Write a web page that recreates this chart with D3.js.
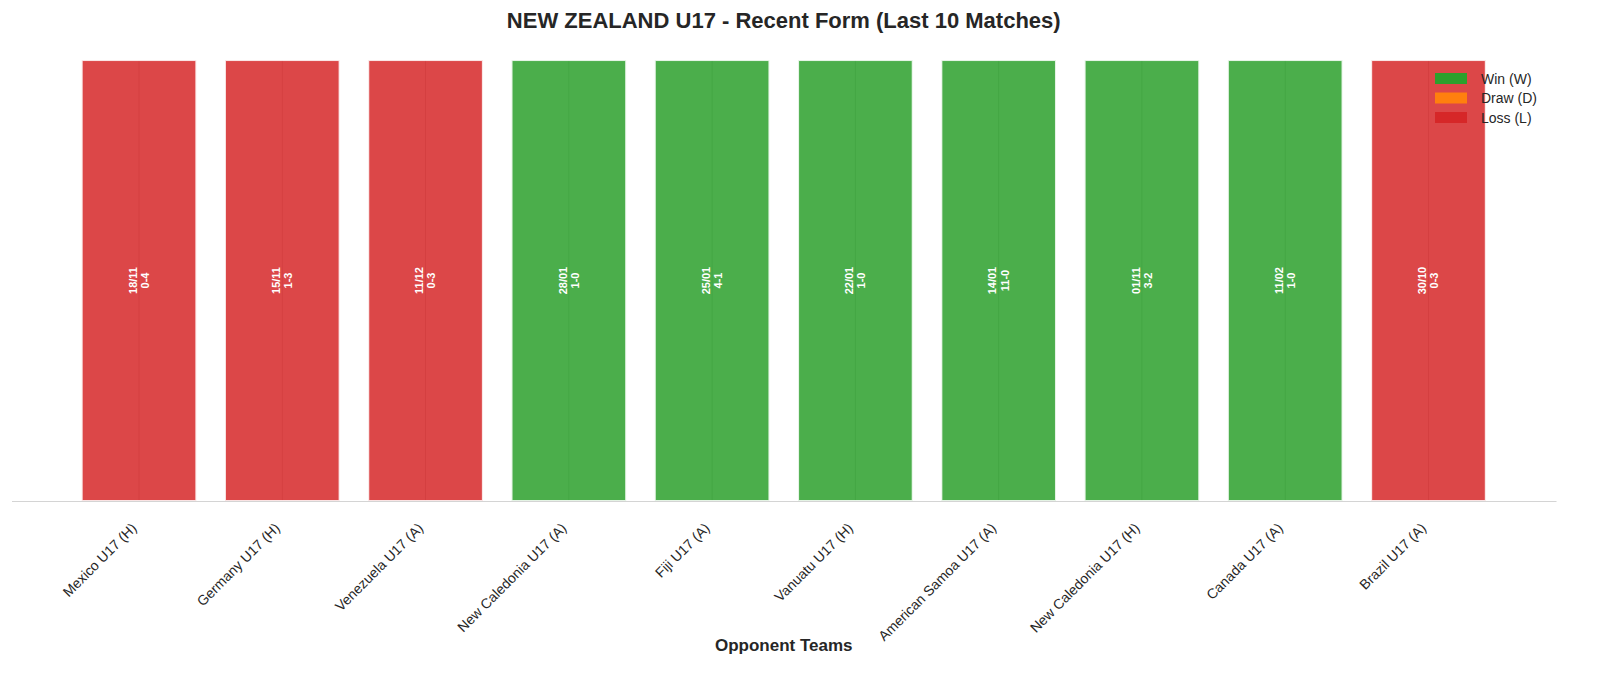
<!DOCTYPE html>
<html>
<head>
<meta charset="utf-8">
<script src="https://cdn.jsdelivr.net/npm/d3@7"></script>
<style>
	body { margin: 0; background: #fff; }
	text { font-family: "Liberation Sans", Arial, sans-serif; }
</style>
</head>
<body>
<div id="chart"></div>
<script>
// match data, oldest on the right
var opponents = ['Mexico U17 (H)', 'Germany U17 (H)', 'Venezuela U17 (A)', 'New Caledonia U17 (A)',
	'Fiji U17 (A)', 'Vanuatu U17 (H)', 'American Samoa U17 (A)', 'New Caledonia U17 (H)',
	'Canada U17 (A)', 'Brazil U17 (A)'];
var results = ['L', 'L', 'L', 'W', 'W', 'W', 'W', 'W', 'W', 'L'];
var dates = ['18/11', '15/11', '11/12', '28/01', '25/01', '22/01', '14/01', '01/11', '11/02', '30/10'];
var scores = ['0-4', '1-3', '0-3', '1-0', '4-1', '1-0', '11-0', '3-2', '1-0', '0-3'];
var legendLabels = ['Win (W)', 'Draw (D)', 'Loss (L)'];

var colors = {W: '#2ca02c', D: '#ff7f0e', L: '#d62728'}

var w = 1600;
var h = 679;
var margin = {left: 11.5, right: 44, top: 38, bottom: 178}

var svg = d3.select('#chart')
	.append('svg')
	.attr('width', w)
	.attr('height', h)

var n = opponents.length;

// matplotlib-style linear x: bars of width 0.8 with 5% margins
var xscale = d3.scaleLinear()
	.domain([-0.89, n - 1 + 0.89])
	.range([margin.left, w - margin.right])

var yscale = d3.scaleLinear()
	.domain([0, 1.05])
	.range([h - margin.bottom, margin.top])

var bw = xscale(0.4) - xscale(-0.4);

// faint centre lines seen through the bars
svg.append('g')
	.selectAll('line')
	.data(d3.range(n))
	.enter()
	.append('line')
	.attr('x1', d => xscale(d))
	.attr('x2', d => xscale(d))
	.attr('y1', yscale(0))
	.attr('y2', yscale(1))
	.attr('stroke', '#c8c8c8')
	.attr('stroke-width', 1)

svg.append('g')
	.selectAll('rect')
	.data(d3.range(n))
	.enter()
	.append('rect')
	.attr('x', d => xscale(d) - bw / 2)
	.attr('y', yscale(1))
	.attr('width', bw)
	.attr('height', yscale(0) - yscale(1))
	.attr('fill', d => colors[results[d]])
	.attr('fill-opacity', 0.85)
	.attr('stroke', '#fff')
	.attr('stroke-opacity', 0.85)
	.attr('stroke-width', 2)

// date / score labels, rotated
var labels = svg.append('g')
	.selectAll('text')
	.data(d3.range(n))
	.enter()
	.append('text')
	.attr('transform', d => 'translate(' + xscale(d) + ',' + yscale(0.5) + ') rotate(-90)')
	.attr('text-anchor', 'middle')
	.attr('fill', '#fff')
	.attr('font-weight', 'bold')
	.attr('font-size', 11)

labels.append('tspan')
	.attr('x', 0)
	.attr('dy', '-0.2em')
	.text(d => dates[d])
labels.append('tspan')
	.attr('x', 0)
	.attr('dy', '1.1em')
	.text(d => scores[d])

// x axis
var xaxis = d3.axisBottom(xscale)
	.tickValues(d3.range(n))
	.tickSize(0)
	.tickPadding(0)
	.tickFormat(d => opponents[d])

var gx = svg.append('g')
	.attr('transform', 'translate(0,' + yscale(0) + ')')
	.call(xaxis)

gx.select('.domain')
	.attr('stroke', '#d4d4d4')
	.attr('stroke-width', 1.2)

gx.selectAll('text')
	.attr('font-size', 14)
	.attr('fill', '#262626')
	.attr('text-anchor', 'end')
	.attr('y', 0)
	.attr('dy', 0)
	.attr('transform', 'translate(-2,28) rotate(-45)')

var cx = (xscale(-0.89) + xscale(n - 1 + 0.89)) / 2;

svg.append('text')
	.attr('x', cx)
	.attr('y', 651)
	.attr('text-anchor', 'middle')
	.attr('font-size', 17)
	.attr('font-weight', 'bold')
	.attr('fill', '#262626')
	.text('Opponent Teams')

svg.append('text')
	.attr('x', cx)
	.attr('y', 28)
	.attr('text-anchor', 'middle')
	.attr('font-size', 22)
	.attr('font-weight', 'bold')
	.attr('fill', '#262626')
	.text('NEW ZEALAND U17 - Recent Form (Last 10 Matches)')

// legend
var leg = svg.append('g')
	.attr('transform', 'translate(1435,73)')
	.selectAll('g')
	.data(legendLabels)
	.enter()
	.append('g')
	.attr('transform', (d, i) => 'translate(0,' + (i * 19.5) + ')')

leg.append('rect')
	.attr('width', 32)
	.attr('height', 11)
	.attr('fill', d => colors[d.charAt(d.length - 2)])

leg.append('text')
	.attr('x', 46)
	.attr('y', 10.5)
	.attr('font-size', 14)
	.attr('fill', '#262626')
	.text(d => d)
</script>
</body>
</html>
